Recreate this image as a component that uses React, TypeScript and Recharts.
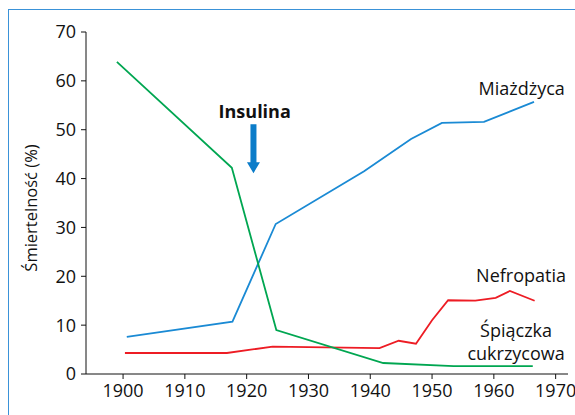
import { LineChart, Line, XAxis, YAxis, ReferenceDot } from 'recharts';

// Śmiertelność chorych na cukrzycę wg przyczyny (%)
const miazdzycaYears = [1900.6, 1917.7, 1924.7, 1939, 1946.6, 1951.6, 1958.4, 1966.5];
const miazdzycaValues = [7.6, 10.7, 30.7, 41.5, 48.1, 51.4, 51.6, 55.7];

const nefropatiaYears = [1900.3, 1916.8, 1924.2, 1941.5, 1944.6, 1947.4, 1950, 1952.6, 1957, 1960.3, 1962.6, 1966.6];
const nefropatiaValues = [4.3, 4.3, 5.6, 5.3, 6.8, 6.2, 11, 15.1, 15.0, 15.6, 17.0, 15.0];

const spiaczkaYears = [1899, 1917.6, 1924.8, 1942.1, 1953.5, 1966.3];
const spiaczkaValues = [63.9, 42.2, 9.0, 2.25, 1.6, 1.6];

const xTicks = [1900, 1910, 1920, 1930, 1940, 1950, 1960, 1970];
const yTicks = [0, 10, 20, 30, 40, 50, 60, 70];

const toRows = (years: number[], values: number[]) => years.map((year, i) => ({ year, value: values[i] }));

const FONT = '"Open Sans", sans-serif';
const BLUE = '#1a8ad4';
const RED = '#ed1c24';
const GREEN = '#00a651';

const textLabel = (lines: string[], bold = false) => (props: any) => (
  <text x={props.cx} y={props.cy} textAnchor="middle" fontFamily={FONT} fontSize={18} fontWeight={bold ? 700 : 400} fill="#111">
    {lines.map((l, i) => (
      <tspan key={i} x={props.cx} dy={i === 0 ? 0 : 23}>{l}</tspan>
    ))}
  </text>
);

const arrow = (props: any) => {
  const { cx, cy } = props;
  return (
    <polygon
      points={`${cx - 3},${cy - 49} ${cx + 3},${cy - 49} ${cx + 3},${cy - 11} ${cx + 6.5},${cy - 11} ${cx},${cy} ${cx - 6.5},${cy - 11} ${cx - 3},${cy - 11}`}
      fill="#0b7cc9"
    />
  );
};

export default function App() {
  const tick = { fill: '#111', fontSize: 18, fontFamily: FONT };
  return (
    <div style={{ position: 'fixed', left: 0, top: 0, width: 575, height: 415, background: '#fff' }}>
      <div style={{ position: 'absolute', left: 8, top: 9, right: 0, bottom: 0, borderLeft: '1.5px solid #3a92d8', borderTop: '1.5px solid #3a92d8' }} />
      <div style={{ position: 'absolute', left: 30, top: 208, transform: 'translate(-50%, -50%) rotate(-90deg)', whiteSpace: 'nowrap', fontFamily: FONT, fontSize: 16.5, color: '#111' }}>
        Śmiertelność (%)
      </div>
      <LineChart width={575} height={415} margin={{ top: 32, right: 7, left: 30, bottom: 11 }} style={{ position: 'absolute', left: 0, top: 0 }}>
        <XAxis
          dataKey="year"
          type="number"
          domain={[1894, 1972]}
          ticks={xTicks}
          tick={tick}
          tickSize={5}
          tickMargin={5}
          stroke="#111"
          height={30}
          allowDataOverflow
        />
        <YAxis
          type="number"
          domain={[0, 70]}
          ticks={yTicks}
          tick={tick}
          tickSize={5}
          tickMargin={5}
          stroke="#111"
          width={56}
        />
        <Line data={toRows(miazdzycaYears, miazdzycaValues)} dataKey="value" stroke={BLUE} strokeWidth={1.8} dot={false} isAnimationActive={false} />
        <Line data={toRows(nefropatiaYears, nefropatiaValues)} dataKey="value" stroke={RED} strokeWidth={1.8} dot={false} isAnimationActive={false} />
        <Line data={toRows(spiaczkaYears, spiaczkaValues)} dataKey="value" stroke={GREEN} strokeWidth={1.8} dot={false} isAnimationActive={false} />
        <ReferenceDot x={1921.1} y={41.1} r={0} shape={arrow} />
        <ReferenceDot x={1921.3} y={52.5} r={0} shape={textLabel(['Insulina'], true)} />
        <ReferenceDot x={1964.5} y={57.2} r={0} shape={textLabel(['Miażdżyca'])} />
        <ReferenceDot x={1964.4} y={18.9} r={0} shape={textLabel(['Nefropatia'])} />
        <ReferenceDot x={1963.6} y={7.6} r={0} shape={textLabel(['Śpiączka', 'cukrzycowa'])} />
      </LineChart>
    </div>
  );
}
